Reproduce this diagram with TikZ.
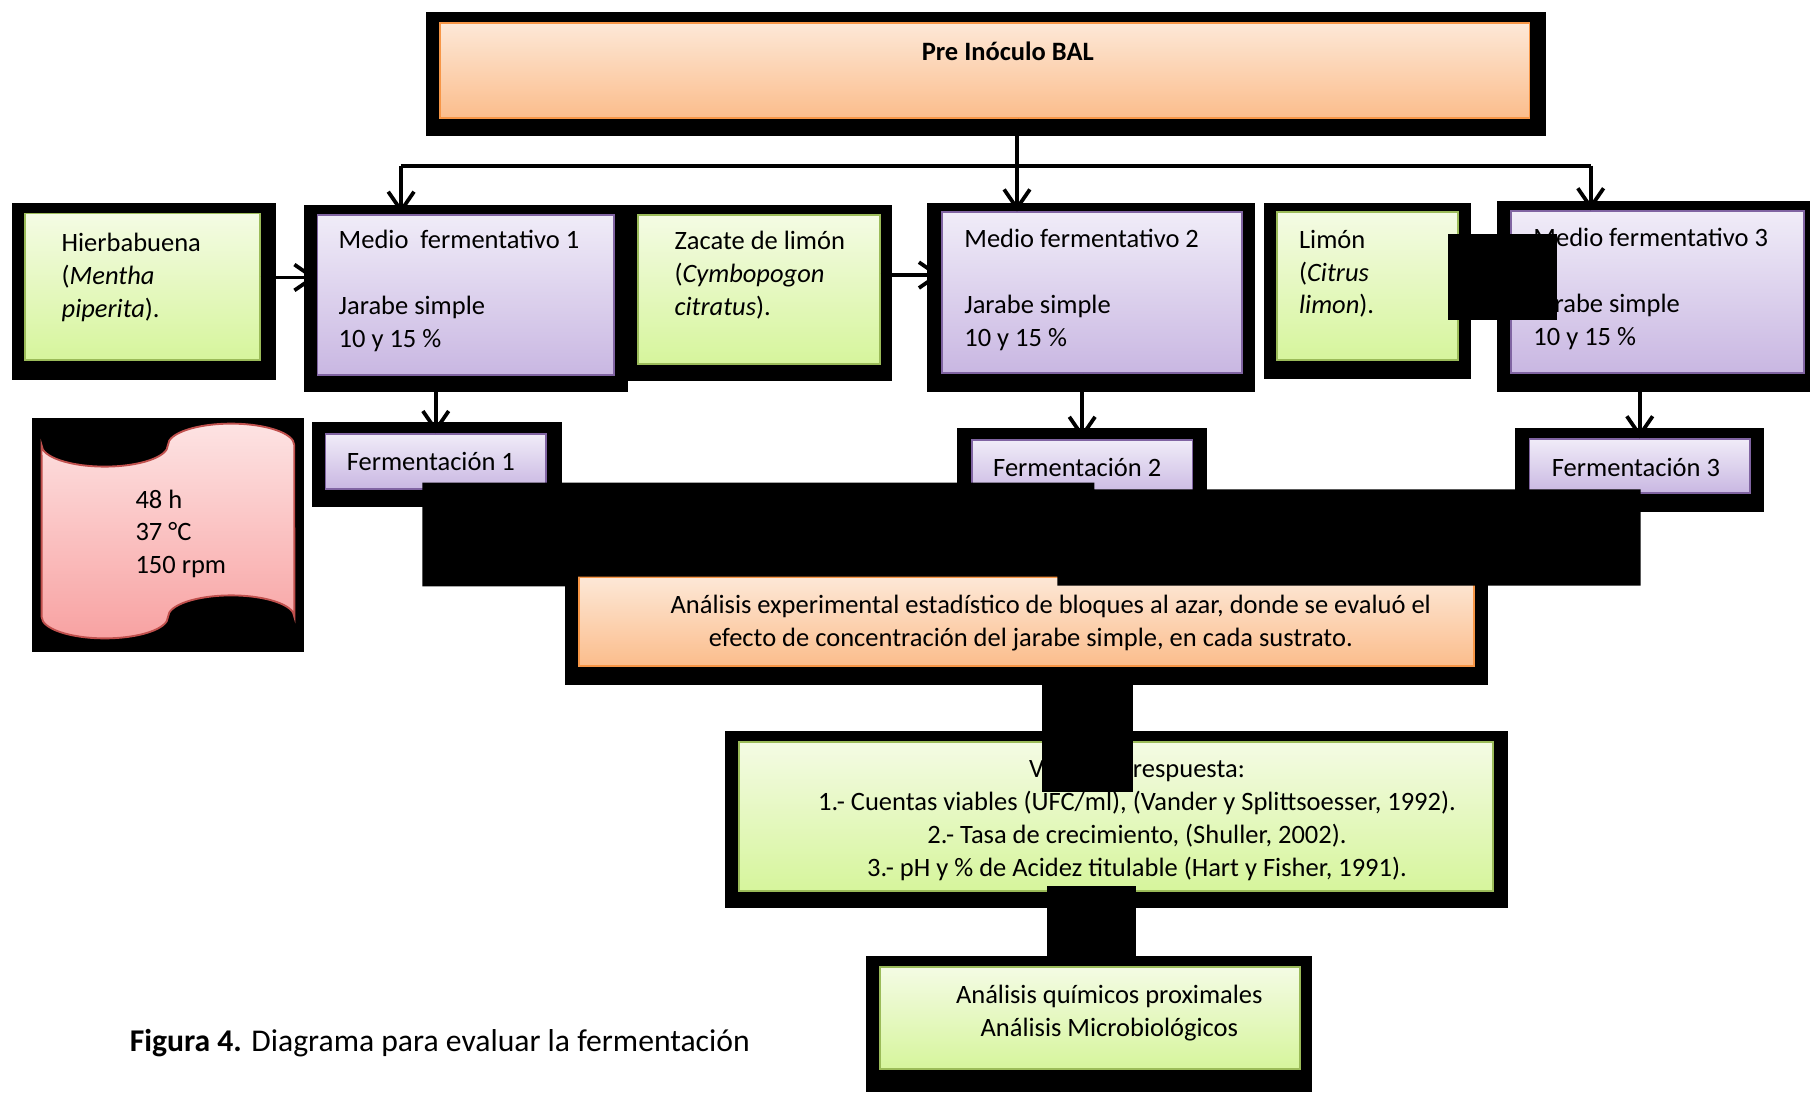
\documentclass[tikz,border=0pt]{standalone}
\usepackage{fontspec}
\setmainfont{Carlito}
\usetikzlibrary{arrows.meta, fit, positioning}

\definecolor{orangetop}{HTML}{FDE8D7}
\definecolor{orangebot}{HTML}{FBBD8C}
\definecolor{orangeline}{HTML}{F79646}
\definecolor{purpletop}{HTML}{F0ECF8}
\definecolor{purplebot}{HTML}{C9B7E2}
\definecolor{purpleline}{HTML}{8064A2}
\definecolor{greentop}{HTML}{F4FBE4}
\definecolor{greenbot}{HTML}{D6F59C}
\definecolor{greenline}{HTML}{9BBB59}
\definecolor{pinktop}{HTML}{FDE3E3}
\definecolor{pinkbot}{HTML}{F8A2A2}
\definecolor{pinkline}{HTML}{C0504D}

\begin{document}
\begin{tikzpicture}[x=0.0173cm, y=-0.0173cm]
    \tikzset{
        box/.style={rectangle, inner sep=0pt, line width=0.8pt},
        orangebox/.style={box, draw=orangeline, top color=orangetop, bottom color=orangebot},
        purplebox/.style={box, draw=purpleline, top color=purpletop, bottom color=purplebot},
        greenbox/.style={box, draw=greenline, top color=greentop, bottom color=greenbot},
        txt/.style={font=\fontsize{11.3}{14}\selectfont, inner sep=0pt, align=left, anchor=base west},
        ctxt/.style={txt, align=center, anchor=base},
        conn/.style={line width=1.6pt},
        arrow/.style={conn, -{Straight Barb[length=8pt, width=11pt]}}
    }
    \useasboundingbox (0,0) rectangle (1568,946);

    % Black backings
    \fill (369,10) rectangle (1339,118);
    \fill (10,176) rectangle (239,329);
    \fill (263,178) rectangle (544,340);
    \fill (543,178) rectangle (773,330);
    \fill (803,176) rectangle (1087,340);
    \fill (1095,176) rectangle (1274,328);
    \fill (1297,174) rectangle (1568,340);
    \fill (28,362) rectangle (263,565);
    \fill (270,366) rectangle (487,439);
    \fill (829,371) rectangle (1046,443);
    \fill (1312.5,371) rectangle (1528,443.5);
    \fill (489.6,498) rectangle (1289,593);
    \fill (628,633) rectangle (1306,787);
    \fill (750,828) rectangle (1137,946);

    % Boxes
    \node[orangebox, fit={(381,20) (1325,102)}] (preinoculo) {};
    \node[greenbox, fit={(22,185) (225,312)}] (hierba) {};
    \node[purplebox, fit={(275,186) (532,325)}] (medio1) {};
    \node[greenbox, fit={(553,186) (762,315)}] (zacate) {};
    \node[purplebox, fit={(816,184) (1076,323)}] (medio2) {};
    \node[greenbox, fit={(1106,184) (1263,312)}] (limon) {};
    \node[purplebox, fit={(1309,183) (1563,323)}] (medio3) {};
    \node[purplebox, fit={(282,376) (473,423.5)}] (ferm1) {};
    \node[purplebox, fit={(842,381) (1033,430)}] (ferm2) {};
    \node[purplebox, fit={(1325,380.5) (1516,427)}] (ferm3) {};
    \node[orangebox, fit={(501.6,499.6) (1277,576.7)}] (analisis) {};
    \node[greenbox, fit={(640,642.5) (1293,771.6)}] (variables) {};
    \node[greenbox, fit={(762,838) (1126,926)}] (final) {};

    % Punched tape
    \draw[pinkline, line width=0.8pt, top color=pinktop, bottom color=pinkbot]
        (36,385.6) arc[start angle=180, end angle=360, x radius=0.947cm, y radius=0.322cm]
        arc[start angle=180, end angle=0, x radius=0.947cm, y radius=0.322cm]
        -- (255,534.4) arc[start angle=0, end angle=180, x radius=0.947cm, y radius=0.322cm]
        arc[start angle=360, end angle=180, x radius=0.947cm, y radius=0.322cm] -- cycle;

    % Texts (multi-line nodes sit on the baseline of their last line)
    \node[ctxt, font=\fontsize{11.3}{14}\selectfont\bfseries] (pretxt) at (873,52) {Pre Inóculo BAL};
    \node[txt] (hierbatxt) at (53,275) {Hierbabuena\\(\textit{Mentha}\\\textit{piperita}).};
    \node[txt] (medio1txt) at (293,301) {Medio\ \ fermentativo 1\\[14pt]Jarabe simple\\10 y 15 \%};
    \node[txt] (zacatetxt) at (584,273) {Zacate de limón\\(\textit{Cymbopogon}\\\textit{citratus}).};
    \node[txt] (medio2txt) at (835,300) {Medio fermentativo 2\\[14pt]Jarabe simple\\10 y 15 \%};
    \node[txt] (limontxt) at (1125,272) {Limón\\(\textit{Citrus}\\\textit{limon}).};
    \node[txt] (medio3txt) at (1328,299) {Medio fermentativo 3\\[14pt]Jarabe simple\\10 y 15 \%};
    \node[txt] (tapetxt) at (117,497) {48 h\\37 °C\\150 rpm};
    \node[txt] (ferm1txt) at (300,408) {Fermentación 1};
    \node[txt] (ferm2txt) at (860,413) {Fermentación 2};
    \node[txt] (ferm3txt) at (1344,413) {Fermentación 3};
    \node[ctxt] (analisistxt) at (893,560) {\hspace*{17pt}Análisis experimental estadístico de bloques al azar, donde se evaluó el\\efecto de concentración del jarabe simple, en cada sustrato.};
    \node[ctxt] (vartxt) at (985,759) {Variables respuesta:\\1.- Cuentas viables (UFC/ml), (Vander y Splittsoesser, 1992).\\2.- Tasa de crecimiento, (Shuller, 2002).\\3.- pH y \% de Acidez titulable (Hart y Fisher, 1991).};
    \node[ctxt] (finaltxt) at (961,898) {Análisis químicos proximales\\Análisis Microbiológicos};
    \node[txt, font=\fontsize{13.5}{16}\selectfont] (caption) at (112,911) {\textbf{Figura 4.} Diagrama para evaluar la fermentación};

    % Connectors
    \coordinate (bus) at (881,143.5);
    \coordinate (busL) at (347.5,143.5);
    \coordinate (busR) at (1378,143.5);
    \draw[conn] (preinoculo.south -| bus) -- (bus);
    \draw[conn] (busL) -- (busR);
    \draw[arrow] (busL) -- (busL |- medio1.north);
    \draw[arrow] (bus) -- (bus |- medio2.north);
    \draw[arrow] (busR) -- (busR |- medio3.north);
    \draw[arrow] ([yshift=4pt]hierba.east) -- ([yshift=4pt]hierba.east -| medio1.west);
    \draw[arrow] ([yshift=6pt]zacate.east) -- ([yshift=6pt]zacate.east -| medio2.west);
    \draw[arrow] (ferm1.north |- medio1.south) -- (ferm1.north);
    \draw[arrow] (ferm2.north |- medio2.south) -- (ferm2.north);
    \draw[arrow] (ferm3.north |- medio3.south) -- (ferm3.north);

    % Black overlays
    \fill (1254,203) rectangle (1349,277);
    \fill (366,418) -- (948,418) -- (948,424) -- (1421.3,424) -- (1421.3,507.4) -- (916,507.4)
        -- (916,499.6) -- (489.6,499.6) -- (489.6,508) -- (366,508) -- cycle;
    \fill (903,590) rectangle (981.5,686);
    \fill (907,767.6) rectangle (984,830);
\end{tikzpicture}
\end{document}
